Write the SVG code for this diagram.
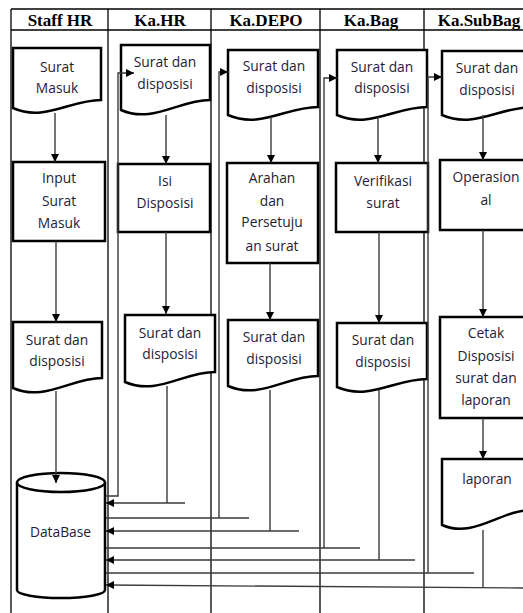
<svg xmlns="http://www.w3.org/2000/svg" width="523" height="613" viewBox="0 0 523 613">
<defs>
<style>
.lane{stroke:#000;stroke-width:1.3;fill:none}
.hd{font-family:"Liberation Serif","Times New Roman",serif;font-weight:bold;font-size:17px;fill:#000;text-anchor:middle}
.sh{fill:#fff;stroke:#000;stroke-width:2.5;stroke-linejoin:miter}
.tx{font-family:"Open Sans","Noto Sans",sans-serif;font-size:13.8px;fill:#1e2238;text-anchor:middle}
.cn{stroke:#3a3a3a;stroke-width:1.4;fill:none}
</style>
<marker id="ah" viewBox="0 0 10 10" refX="10" refY="5" markerWidth="8" markerHeight="8" markerUnits="userSpaceOnUse" orient="auto">
<path d="M0,0 L10,5 L0,10 Z" fill="#000"/>
</marker>
</defs>
<rect width="523" height="613" fill="#fff"/>
<g id="lanes">
<line class="lane" x1="11" y1="9" x2="523" y2="9"/>
<line class="lane" x1="11" y1="30" x2="523" y2="30"/>
<line class="lane" x1="11" y1="9" x2="11" y2="613"/>
<line class="lane" x1="108" y1="9" x2="108" y2="613"/>
<line class="lane" x1="211" y1="9" x2="211" y2="613"/>
<line class="lane" x1="320" y1="9" x2="320" y2="613"/>
<line class="lane" x1="424" y1="9" x2="424" y2="613"/>
<text class="hd" x="60" y="26">Staff HR</text>
<text class="hd" x="160" y="26">Ka.HR</text>
<text class="hd" x="266" y="26">Ka.DEPO</text>
<text class="hd" x="371" y="26">Ka.Bag</text>
<text class="hd" x="479" y="26">Ka.SubBag</text>
</g>
<g id="n-surat-masuk">
<path class="sh" d="M13,48 H101 V100 C70,100 44,122 13,108 Z"/>
<text class="tx" x="57" y="72">Surat</text>
<text class="tx" x="57" y="93">Masuk</text>
</g>
<g id="n-input">
<rect class="sh" x="13" y="162" width="92" height="79"/>
<text class="tx" x="59" y="183">Input</text>
<text class="tx" x="59" y="206">Surat</text>
<text class="tx" x="59" y="228">Masuk</text>
</g>
<g id="n-staff-doc">
<path class="sh" d="M13,322 H102 V378 C71,378 44,402 13,388 Z"/>
<text class="tx" x="57" y="345">Surat dan</text>
<text class="tx" x="57" y="366">disposisi</text>
</g>
<g id="n-database">
<path class="sh" d="M17,482 V590 A44,8 0 0 0 105,590 V482"/>
<ellipse class="sh" cx="61" cy="482.5" rx="44" ry="9.5"/>
<text class="tx" x="60.5" y="537">DataBase</text>
</g>
<g id="n-kahr-doc1">
<path class="sh" d="M121,45 H210 V100 C179,100 152,124 121,110 Z"/>
<text class="tx" x="165" y="67">Surat dan</text>
<text class="tx" x="165" y="89">disposisi</text>
</g>
<g id="n-isi">
<rect class="sh" x="118" y="164" width="92" height="68"/>
<text class="tx" x="165" y="186">Isi</text>
<text class="tx" x="165" y="208">Disposisi</text>
</g>
<g id="n-kahr-doc2">
<path class="sh" d="M125,315 H215 V372 C183,372 157,396 125,382 Z"/>
<text class="tx" x="170" y="338">Surat dan</text>
<text class="tx" x="170" y="359">disposisi</text>
</g>
<g id="n-depo-doc1">
<path class="sh" d="M228,50 H318 V107 C286,107 260,129 228,115 Z"/>
<text class="tx" x="274" y="71">Surat dan</text>
<text class="tx" x="274" y="93">disposisi</text>
</g>
<g id="n-arahan">
<rect class="sh" x="227" y="163" width="91" height="100"/>
<text class="tx" x="272" y="183">Arahan</text>
<text class="tx" x="272" y="206">dan</text>
<text class="tx" x="272" y="227">Persetuju</text>
<text class="tx" x="272" y="251">an surat</text>
</g>
<g id="n-depo-doc2">
<path class="sh" d="M228,320 H318 V376 C286,376 260,400 228,386 Z"/>
<text class="tx" x="274" y="342">Surat dan</text>
<text class="tx" x="274" y="364">disposisi</text>
</g>
<g id="n-bag-doc1">
<path class="sh" d="M337,50 H427 V107 C395,107 369,129 337,115 Z"/>
<text class="tx" x="382" y="72">Surat dan</text>
<text class="tx" x="382" y="93">disposisi</text>
</g>
<g id="n-verifikasi">
<rect class="sh" x="336" y="163" width="92" height="69"/>
<text class="tx" x="383" y="186">Verifikasi</text>
<text class="tx" x="383" y="208">surat</text>
</g>
<g id="n-bag-doc2">
<path class="sh" d="M337,323 H427 V379 C395,379 369,401 337,387 Z"/>
<text class="tx" x="383" y="345">Surat dan</text>
<text class="tx" x="383" y="367">disposisi</text>
</g>
<g id="n-sub-doc1">
<path class="sh" d="M442,51 H532 V107 C500,107 474,129 442,115 Z"/>
<text class="tx" x="487" y="73">Surat dan</text>
<text class="tx" x="487" y="95">disposisi</text>
</g>
<g id="n-operasional">
<rect class="sh" x="440" y="160" width="92" height="70"/>
<text class="tx" x="486" y="182">Operasion</text>
<text class="tx" x="486" y="205">al</text>
</g>
<g id="n-cetak">
<rect class="sh" x="440" y="317" width="92" height="101"/>
<text class="tx" x="486" y="338">Cetak</text>
<text class="tx" x="486" y="361">Disposisi</text>
<text class="tx" x="486" y="383">surat dan</text>
<text class="tx" x="486" y="405">laporan</text>
</g>
<g id="n-laporan">
<path class="sh" d="M442,459 H532 V510 C500,510 474,539 442,525 Z"/>
<text class="tx" x="487" y="484">laporan</text>
</g>
<g id="connectors">
<line class="cn" x1="55" y1="113" x2="55" y2="162" marker-end="url(#ah)"/>
<line class="cn" x1="56" y1="241" x2="56" y2="322" marker-end="url(#ah)"/>
<line class="cn" x1="56" y1="391" x2="56" y2="483" marker-end="url(#ah)"/>
<line class="cn" x1="166" y1="115" x2="166" y2="164" marker-end="url(#ah)"/>
<line class="cn" x1="166" y1="232" x2="166" y2="314" marker-end="url(#ah)"/>
<line class="cn" x1="271" y1="117" x2="271" y2="163" marker-end="url(#ah)"/>
<line class="cn" x1="270" y1="263" x2="270" y2="320" marker-end="url(#ah)"/>
<line class="cn" x1="378" y1="117" x2="378" y2="163" marker-end="url(#ah)"/>
<line class="cn" x1="379" y1="232" x2="379" y2="323" marker-end="url(#ah)"/>
<line class="cn" x1="483" y1="115" x2="483" y2="160" marker-end="url(#ah)"/>
<line class="cn" x1="483" y1="230" x2="483" y2="317" marker-end="url(#ah)"/>
<line class="cn" x1="483" y1="418" x2="483" y2="459" marker-end="url(#ah)"/>
<path class="cn" d="M106,496 H118 V73 H134" marker-end="url(#ah)"/>
<path class="cn" d="M106,518 H249 M219,518 V72 H228" marker-end="url(#ah)"/>
<path class="cn" d="M106,548 H360 M324,548 V78 H337" marker-end="url(#ah)"/>
<path class="cn" d="M106,573 H474 M428,573 V77 H442" marker-end="url(#ah)"/>
<path class="cn" d="M167,386 V503"/>
<path class="cn" d="M185,503 H106" marker-end="url(#ah)"/>
<path class="cn" d="M270,390 V531"/>
<path class="cn" d="M299,531 H106" marker-end="url(#ah)"/>
<path class="cn" d="M379,390 V560"/>
<path class="cn" d="M415,560 H106" marker-end="url(#ah)"/>
<path class="cn" d="M483,530 V587"/>
<path class="cn" d="M523,588 L106,585" marker-end="url(#ah)"/>
</g>
</svg>
